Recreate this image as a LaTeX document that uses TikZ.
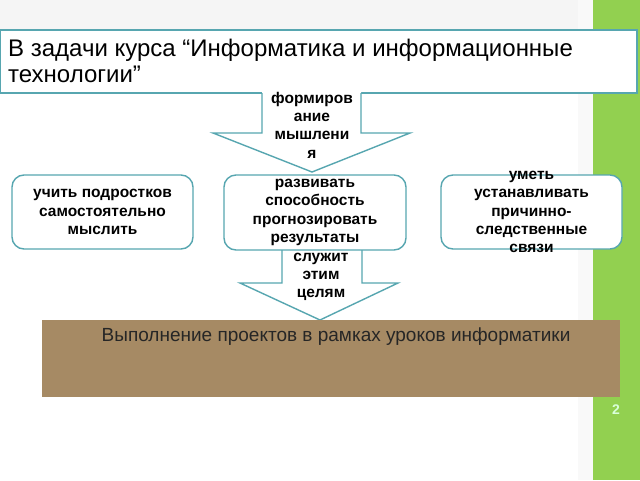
\documentclass[tikz,border=0pt]{standalone}
\usepackage{fontspec}
\setmainfont{Liberation Sans}
\newlength{\du}
\setlength{\du}{1pt}
\definecolor{tealline}{rgb}{0.341, 0.651, 0.690}
\definecolor{stripegreen}{rgb}{0.573, 0.816, 0.314}
\definecolor{projbrown}{rgb}{0.651, 0.541, 0.392}
\tikzset{
  goalbox/.style={draw=tealline, line width=1.4pt, fill=white, rounded corners=12\du},
  boxtext/.style={align=center, inner sep=0pt, font=\bfseries\fontsize{15.5}{18.3}\selectfont},
  arrowbody/.style={fill=white, draw=tealline, line width=1.4pt, line join=miter}
}
\begin{document}
\begin{tikzpicture}
\pgftransformxscale{1.000000}
\pgftransformyscale{-1.000000}
\useasboundingbox[fill=white] (0\du,0\du) rectangle (640\du,480\du);
% background shading
\fill[gray!8] (0\du,0\du) rectangle (593\du,30\du);
\fill[gray!5] (578\du,0\du) rectangle (593\du,480\du);
\fill[stripegreen] (593\du,0\du) rectangle (640\du,480\du);
% title
\draw[draw=tealline, line width=1.4pt, fill=white] (0.5\du,30\du) rectangle (637\du,93\du);
\node[anchor=west, align=left, inner sep=0pt, font=\fontsize{24}{26}\selectfont] (title) at (8\du,61\du)
  {В задачи курса “Информатика и информационные\\технологии”};
% top arrow
\fill[white] (262\du,92\du)--(262\du,133\du)--(213\du,133\du)--(312\du,172\du)--(410\du,133\du)--(361\du,133\du)--(361\du,92\du)--cycle;
\draw[arrowbody, fill=none] (262\du,93\du)--(262\du,133\du)--(213\du,133\du)--(312\du,172\du)--(410\du,133\du)--(361\du,133\du)--(361\du,93\du);
\node[boxtext] (shape) at (312\du,125\du) {формиров\\ание\\мышлени\\я};
% goal boxes
\node[goalbox, minimum width=181\du, minimum height=74\du] (teach) at (102.5\du,212\du) {};
\node[boxtext] (teachtxt) at (teach.center) {учить подростков\\самостоятельно\\мыслить};
\node[goalbox, minimum width=182\du, minimum height=75\du] (predict) at (315\du,212.5\du) {};
\node[boxtext] (predicttxt) at (predict.center) {развивать\\способность\\прогнозировать\\результаты};
\node[goalbox, minimum width=181\du, minimum height=74\du] (cause) at (531.5\du,212\du) {};
\node[boxtext] (causetxt) at (cause.center) {уметь\\устанавливать\\причинно-\\следственные\\связи};
% bottom arrow
\fill[white] (282\du,251\du)--(282\du,283\du)--(240\du,283\du)--(320\du,320\du)--(398\du,283\du)--(362\du,283\du)--(362\du,251\du)--cycle;
\draw[arrowbody, fill=none] (282\du,250\du)--(282\du,283\du)--(240\du,283\du)--(320\du,320\du)--(398\du,283\du)--(362\du,283\du)--(362\du,250\du);
\node[boxtext] (serve) at (321\du,277\du) {служит\\этим\\целям};
% projects
\fill[projbrown] (42\du,320\du) rectangle (620\du,397\du);
\node[inner sep=0pt, font=\fontsize{19}{22}\selectfont, text=black!85] (projects) at (336\du,337\du)
  {Выполнение проектов в рамках уроков информатики};
\node[text=green!15!white, font=\bfseries\fontsize{14}{16}\selectfont] (pagenum) at (616\du,410\du) {2};
\end{tikzpicture}
\end{document}
